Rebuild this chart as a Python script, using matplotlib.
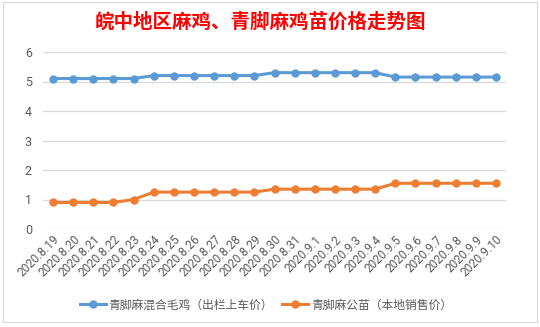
import matplotlib
matplotlib.use("Agg")
import matplotlib.pyplot as plt
from matplotlib.patches import Rectangle

plt.rcParams["font.family"] = ["Noto Sans CJK SC", "DejaVu Sans"]

dates = ["2020.8.19", "2020.8.20", "2020.8.21", "2020.8.22", "2020.8.23",
         "2020.8.24", "2020.8.25", "2020.8.26", "2020.8.27", "2020.8.28",
         "2020.8.29", "2020.8.30", "2020.8.31", "2020.9.1", "2020.9.2",
         "2020.9.3", "2020.9.4", "2020.9.5", "2020.9.6", "2020.9.7",
         "2020.9.8", "2020.9.9", "2020.9.10"]
mixed_price = [5.1, 5.1, 5.1, 5.1, 5.1,
               5.2, 5.2, 5.2, 5.2, 5.2, 5.2,
               5.3, 5.3, 5.3, 5.3, 5.3, 5.3,
               5.15, 5.15, 5.15, 5.15, 5.15, 5.15]
chick_price = [0.9, 0.9, 0.9, 0.9, 1.0,
               1.25, 1.25, 1.25, 1.25, 1.25, 1.25,
               1.35, 1.35, 1.35, 1.35, 1.35, 1.35,
               1.55, 1.55, 1.55, 1.55, 1.55, 1.55]
series_names = ["青脚麻混合毛鸡（出栏上车价）", "青脚麻公苗（本地销售价）"]
title = "皖中地区麻鸡、青脚麻鸡苗价格走势图"

BLUE = "#5B9BD5"
ORANGE = "#ED7D31"
GRAY = "#595959"

fig = plt.figure(figsize=(5.4, 3.27), dpi=100)
fig.patches.append(Rectangle((3 / 540, 5 / 327), 534 / 540, 320 / 327,
                             transform=fig.transFigure, fill=False,
                             edgecolor="#D9D9D9", linewidth=0.8))

ax = fig.add_axes([43 / 540, 1 - 229 / 327, 463 / 540, 177 / 327])
x = range(len(dates))
ax.plot(x, mixed_price, color=BLUE, lw=2.2, marker="o", ms=5, label=series_names[0])
ax.plot(x, chick_price, color=ORANGE, lw=2.2, marker="o", ms=5, label=series_names[1])

ax.set_xlim(-0.5, len(dates) - 0.5)
ax.set_ylim(0, 6)
ax.set_yticks(range(0, 7))
ax.grid(axis="y", color="#D9D9D9", lw=0.9)
ax.set_axisbelow(True)
for side in ax.spines.values():
    side.set_visible(False)
ax.tick_params(length=0, colors=GRAY)
ax.tick_params(axis="y", labelsize=9, pad=8)
ax.set_xticks(list(x))
ax.set_xticklabels(dates, rotation=45, ha="right", rotation_mode="anchor",
                   fontsize=8.5, family=["Roboto", "DejaVu Sans"], color=GRAY)
ax.tick_params(axis="x", pad=3)
for lbl in ax.get_yticklabels():
    lbl.set_family(["Roboto", "DejaVu Sans"])

fig.text(260 / 540, 1 - 22 / 327, title, color="red", fontsize=14,
         fontweight="bold", ha="center", va="center")

fig.legend(loc="center", bbox_to_anchor=(266 / 540, 1 - 305 / 327), ncol=2,
           frameon=False, fontsize=8.5, labelcolor=GRAY, handlelength=2.2,
           columnspacing=0.8, handletextpad=0.2)

fig.savefig("out.png", dpi=100)
